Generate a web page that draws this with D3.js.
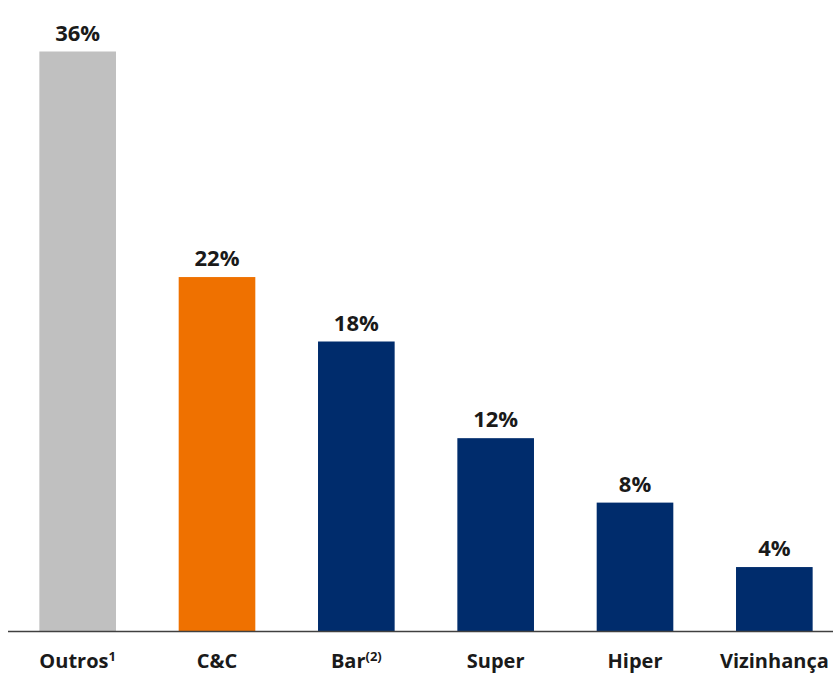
<!DOCTYPE html>
<html lang="pt">
<head>
  <meta charset="UTF-8">
  <title>Participação por canal</title>
  <script src="https://d3js.org/d3.v7.min.js"></script>
  <style>
    body { margin: 0; background: #fff; font-family: "Open Sans", Arial, sans-serif; }
    .value { font-size: 22px; font-weight: 700; fill: #1a1a1a; }
    .cat { font-size: 20px; font-weight: 700; fill: #1a1a1a; }
  </style>
</head>
<body>
  <svg id="chart" width="833" height="674"></svg>
  <script>
    // Data
    const categories = ["Outros", "C&C", "Bar", "Super", "Hiper", "Vizinhança"];
    const supers = ["1", "", "(2)", "", "", ""];
    const values = [36, 22, 18, 12, 8, 4];
    const colors = ["#c0c0c0", "#ef7100", "#002c6c", "#002c6c", "#002c6c", "#002c6c"];

    const svg = d3.select("#chart");
    const baseY = 631.5;

    const x = d3.scaleBand()
        .domain(categories)
        .range([8, 844])
        .paddingInner(0.45)
        .paddingOuter(0.225);

    const y = d3.scaleLinear()
        .domain([0, 36])
        .range([baseY, baseY - 580]);

    // bars
    svg.append("g").selectAll("rect")
        .data(categories)
        .enter().append("rect")
        .attr("x", d => x(d))
        .attr("width", x.bandwidth())
        .attr("y", (d, i) => y(values[i]))
        .attr("height", (d, i) => baseY - y(values[i]))
        .attr("fill", (d, i) => colors[i]);

    // value labels
    svg.append("g").selectAll("text")
        .data(categories)
        .enter().append("text")
        .attr("class", "value")
        .attr("text-anchor", "middle")
        .attr("x", d => x(d) + x.bandwidth() / 2)
        .attr("y", (d, i) => y(values[i]) - 11)
        .text((d, i) => values[i] + "%");

    // baseline
    svg.append("line")
        .attr("x1", 8).attr("x2", 833)
        .attr("y1", baseY).attr("y2", baseY)
        .attr("stroke", "#404040")
        .attr("stroke-width", 1.5);

    // category labels with superscripts
    const cat = svg.append("g").selectAll("text")
        .data(categories)
        .enter().append("text")
        .attr("class", "cat")
        .attr("text-anchor", "middle")
        .attr("x", d => x(d) + x.bandwidth() / 2)
        .attr("y", 668);

    cat.append("tspan").text(d => d);
    cat.append("tspan")
        .attr("dy", -7)
        .style("font-size", "13px")
        .text((d, i) => supers[i]);
  </script>
</body>
</html>
